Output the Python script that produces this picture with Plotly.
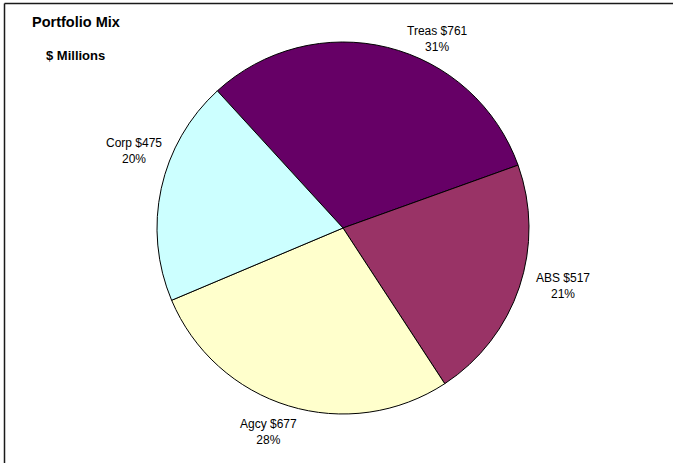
import plotly.graph_objects as go

# Portfolio composition, $ millions
categories = ["Treas", "ABS", "Agcy", "Corp"]
values = [761, 517, 677, 475]
colors = ["#660066", "#993366", "#FFFFCC", "#CCFFFF"]

W, H = 673, 463
FONT = "Liberation Sans, Arial, sans-serif"


def px(x):
    return x / W


def py(y):
    return 1 - y / H


total = sum(values)

# pie geometry in pixels: centre and radius
cx, cy, r = 343, 228, 186

fig = go.Figure(
    go.Pie(
        labels=categories,
        values=values,
        sort=False,
        direction="clockwise",
        rotation=-42.5,
        marker=dict(colors=colors, line=dict(color="#000000", width=1)),
        textinfo="none",
        hoverinfo="label+value+percent",
        showlegend=False,
        domain=dict(x=[px(cx - r), px(cx + r)], y=[py(cy + r), py(cy - r)]),
    )
)

# label anchor points (pixel coordinates) for each category
label_pos = {
    "Treas": (437, 39),
    "ABS": (563, 286),
    "Agcy": (268, 432),
    "Corp": (134, 151),
}

annotations = []
for cat, val in zip(categories, values):
    x, y = label_pos[cat]
    pct = round(100 * val / total)
    annotations.append(
        dict(
            x=px(x), y=py(y), xref="paper", yref="paper",
            xanchor="center", yanchor="middle",
            text=f"{cat} ${val}<br>{pct}%",
            showarrow=False, align="center",
            font=dict(family=FONT, size=12, color="#000000"),
        )
    )

annotations.append(
    dict(x=px(30), y=py(22), xref="paper", yref="paper",
         xanchor="left", yanchor="middle", showarrow=False,
         text="<b>Portfolio Mix</b>",
         font=dict(family=FONT, size=14.5, color="#000000"))
)
annotations.append(
    dict(x=px(44), y=py(55), xref="paper", yref="paper",
         xanchor="left", yanchor="middle", showarrow=False,
         text="<b>$ Millions</b>",
         font=dict(family=FONT, size=13, color="#000000"))
)

fig.update_layout(
    width=W, height=H,
    margin=dict(l=0, r=0, t=0, b=0),
    paper_bgcolor="#FFFFFF",
    plot_bgcolor="#FFFFFF",
    annotations=annotations,
    shapes=[
        dict(type="line", xref="paper", yref="paper",
             x0=px(4.5), x1=1, y0=py(3.5), y1=py(3.5),
             line=dict(color="#1a1a1a", width=1.5)),
        dict(type="line", xref="paper", yref="paper",
             x0=px(4.5), x1=px(4.5), y0=py(3.5), y1=0,
             line=dict(color="#1a1a1a", width=1.5)),
    ],
)

fig.write_html("out.html")
